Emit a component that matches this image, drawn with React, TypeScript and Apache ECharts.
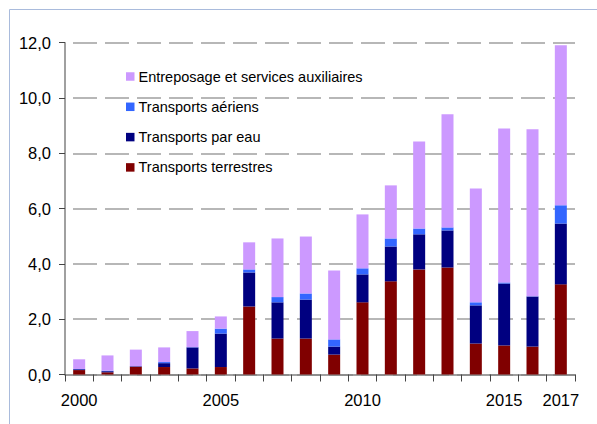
import React, { useEffect, useRef } from "react";
import * as echarts from "echarts";

const years = ["2000","2001","2002","2003","2004","2005","2006","2007","2008","2009","2010","2011","2012","2013","2014","2015","2016","2017"];
const shownYears = ["2000", "2005", "2010", "2015", "2017"];
const yTicks = [0, 2, 4, 6, 8, 10, 12];

const terrestres = [0.16,0.08,0.28,0.27,0.22,0.27,2.46,1.30,1.30,0.72,2.61,3.37,3.80,3.87,1.12,1.05,1.01,3.26];
const parEau = [0.03,0.04,0.02,0.14,0.76,1.21,1.23,1.31,1.41,0.29,1.01,1.26,1.27,1.34,1.38,2.24,1.81,2.20];
const aeriens = [0.01,0.02,0.00,0.04,0.01,0.18,0.11,0.19,0.22,0.26,0.22,0.29,0.21,0.11,0.11,0.04,0.01,0.66];
const entreposage = [0.35,0.55,0.60,0.53,0.58,0.44,0.98,2.12,2.06,2.49,1.95,1.92,3.15,4.09,4.12,5.57,6.04,5.79];

const names = {
  ent: "Entreposage et services auxiliaires",
  aer: "Transports aériens",
  eau: "Transports par eau",
  ter: "Transports terrestres",
};

export default function App() {
  const ref = useRef<HTMLDivElement>(null);
  useEffect(() => {
    document.body.style.margin = "0";
    const chart = echarts.init(ref.current!, null, { renderer: "svg" });
    const font = "'Liberation Sans', Arial, sans-serif";
    const mk = (name: string, data: number[], color: string) => ({
      name,
      type: "bar",
      stack: "total",
      data,
      barWidth: 12,
      itemStyle: { color },
    });
    chart.setOption({
      animation: false,
      backgroundColor: "#ffffff",
      textStyle: { fontFamily: font },
      graphic: [
        {
          type: "rect",
          shape: { x: 9.5, y: 9.5, width: 700, height: 500 },
          style: { fill: "none", stroke: "#a9bbdc", lineWidth: 1 },
          silent: true,
        },
      ],
      grid: { left: 65, right: 22, top: 42.7, bottom: 49.5, containLabel: false },
      legend: {
        orient: "vertical",
        left: 121,
        top: 63.5,
        itemWidth: 8.5,
        itemHeight: 8.5,
        itemGap: 14.3,
        icon: "rect",
        data: [names.ent, names.aer, names.eau, names.ter],
        textStyle: { fontSize: 14.5, color: "#000", fontFamily: font, lineHeight: 16, padding: [0, 0, 0, -1] },
      },
      xAxis: {
        type: "category",
        data: years,
        boundaryGap: true,
        axisLine: { lineStyle: { color: "#808080", width: 1.5 } },
        axisTick: { show: true, interval: 0, length: 7, lineStyle: { color: "#444" } },
        axisLabel: {
          interval: 0,
          margin: 17,
          fontSize: 16.5,
          color: "#000",
          fontFamily: font,
          formatter: (v: string) => (shownYears.includes(v) ? v : ""),
        },
        splitLine: { show: false },
      },
      yAxis: {
        type: "value",
        min: yTicks[0],
        max: yTicks[yTicks.length - 1],
        interval: 2,
        axisLine: { show: true, lineStyle: { color: "#808080", width: 1.5 } },
        axisTick: { show: true, length: 6, lineStyle: { color: "#444" } },
        axisLabel: {
          margin: 14,
          fontSize: 16.5,
          color: "#000",
          fontFamily: font,
          formatter: (v: number) => v.toFixed(1).replace(".", ","),
        },
        splitLine: {
          show: true,
          lineStyle: { color: "#a0a0a0", width: 1.5, type: [24, 8], dashOffset: 24 },
        },
      },
      series: [
        mk(names.ter, terrestres, "#800000"),
        mk(names.eau, parEau, "#000080"),
        mk(names.aer, aeriens, "#3366ff"),
        mk(names.ent, entreposage, "#cc99ff"),
      ],
    });
    return () => chart.dispose();
  }, []);
  return <div ref={ref} style={{ width: 597, height: 424 }} />;
}
